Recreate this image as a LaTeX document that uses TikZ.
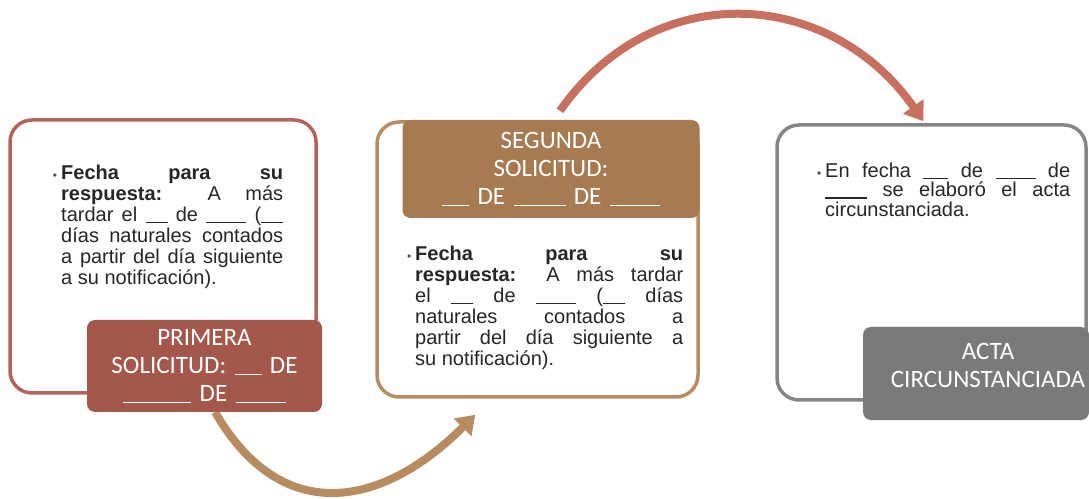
\documentclass[tikz,border=0pt]{standalone}
\usepackage{fontspec}
\setmainfont{Liberation Sans}
\newfontfamily\calibri{Carlito}
\usetikzlibrary{arrows.meta}

\definecolor{rojo}{HTML}{B3645A}
\definecolor{rojolab}{HTML}{A4584C}
\definecolor{cafe}{HTML}{B78C60}
\definecolor{cafelab}{HTML}{A67B52}
\definecolor{gris}{HTML}{858585}
\definecolor{grislab}{HTML}{7A7A7A}
\definecolor{flecha}{HTML}{C8705F}

\newcommand{\blank}[1]{\rule[-2pt]{#1}{1.2pt}}
\newcommand{\vin}{\makebox[0pt][r]{\textcolor{black!70}{\large\textbullet}\hspace{4pt}}}

\begin{document}
\begin{tikzpicture}[x=1pt, y=1pt, >={Triangle[length=18pt,width=24pt]},
    caja/.style={draw, line width=3.5pt, rounded corners=22pt, inner sep=0pt},
    texto/.style={anchor=north west, inner sep=0pt, align=justify, text=black!85,
        font=\fontsize{20pt}{21pt}\selectfont},
    etiqueta/.style={fill, rounded corners=8pt, inner sep=0pt, align=center, text=white,
        font=\calibri\fontsize{25pt}{28pt}\selectfont},
    conector/.style={->, line width=8pt}]

    \useasboundingbox (0,0) rectangle (1089,498);

    % Outer boxes
    \node[caja, draw=rojo, minimum width=306pt, minimum height=273pt] (box1) at (163,241.5) {};
    \node[caja, draw=cafe, minimum width=321pt, minimum height=275pt] (box2) at (537.5,238.5) {};
    \node[caja, draw=gris, minimum width=309pt, minimum height=275pt] (box3) at (931.5,235.5) {};

    % Arrows between the steps
    \coordinate (a1ini) at (215,86);
    \coordinate (a1fin) at ([shift={(100pt,-16pt)}]box2.south west);
    \draw[conector, cafe] (a1ini) to[out=-60, in=-135, looseness=1.3] (a1fin);

    % Labels
    \node[etiqueta, fill=rojolab, minimum width=235pt, minimum height=92pt, text width=232pt] (lab1) at (204.5,132)
        {PRIMERA\\SOLICITUD: \blank{27pt} DE\\\blank{68pt} DE \blank{50pt}};
    \node[etiqueta, fill=cafelab, minimum width=297pt, minimum height=98pt, text width=290pt] (lab2) at (551,329)
        {SEGUNDA\\SOLICITUD:\\\blank{27pt} DE \blank{52pt} DE \blank{50pt}};
    \node[etiqueta, fill=grislab, minimum width=226pt, minimum height=93pt] (lab3) at (976,124.5) {};
    \node[etiqueta, fill=none] (lab3t) at ([shift={(12pt,8pt)}]lab3.center) {ACTA\\CIRCUNSTANCIADA};

    \coordinate (a2ini) at ([shift={(9pt,9pt)}]lab2.north);
    \coordinate (a2fin) at ([shift={(-8pt,2pt)}]box3.north);
    \draw[conector, flecha] (a2ini) to[out=55, in=125, looseness=1.15] (a2fin);

    % Bullet texts
    \node[texto, text width=222pt] (txt1) at (61,333.6)
        {\vin\textbf{Fecha para su}\linebreak \textbf{respuesta:} A más\linebreak tardar el \blank{22pt} de \blank{40pt} (\blank{22pt}\linebreak días naturales contados\linebreak a partir del día siguiente\linebreak a su notificación).};
    \node[texto, text width=268pt] (txt2) at (415,252.6)
        {\vin\textbf{Fecha para su}\linebreak \textbf{respuesta:} A más tardar\linebreak el \blank{22pt} de \blank{40pt} (\blank{22pt} días\linebreak naturales contados a\linebreak partir del día siguiente a\linebreak su notificación).};
    \node[texto, text width=245pt, font=\fontsize{20pt}{19.5pt}\selectfont] (txt3) at (825,335.6)
        {\vin En fecha \blank{25pt} de \blank{40pt} de\linebreak \blank{42pt} se elaboró el acta\linebreak circunstanciada.};

\end{tikzpicture}
\end{document}
